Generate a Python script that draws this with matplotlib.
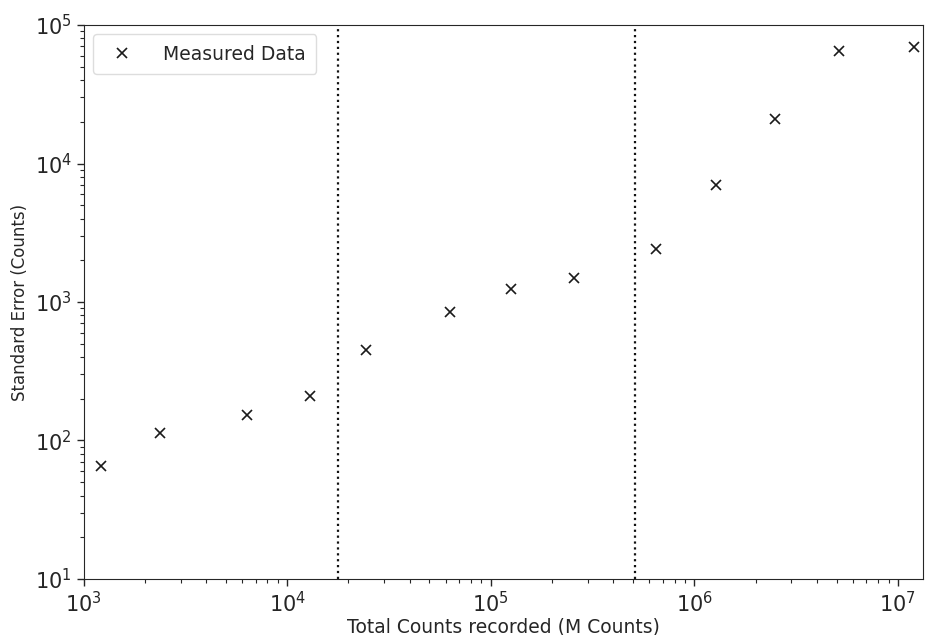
import matplotlib
matplotlib.use("Agg")
import matplotlib.pyplot as plt

# Total counts recorded and the standard error measured at each
total_counts = [1220, 2370, 6380, 12900, 24300, 63000, 126000, 257000,
                646000, 1.28e6, 2.49e6, 5.12e6, 1.2e7]
std_error = [65.5, 113, 154, 211, 448, 847, 1240, 1500,
             2400, 7000, 20850, 65200, 69000]

# Region boundaries
boundaries = [1.77e4, 5.1e5]

ink = "#262626"
plt.rcParams["font.family"] = ["DejaVu Sans"]
plt.rcParams["axes.edgecolor"] = ink
plt.rcParams["xtick.color"] = ink
plt.rcParams["ytick.color"] = ink
plt.rcParams["text.color"] = ink
plt.rcParams["axes.labelcolor"] = ink

fig = plt.figure(figsize=(9.25, 6.35), dpi=100)
ax = fig.add_axes([0.0903, 0.0882, 0.9077, 0.8724])

ax.plot(total_counts, std_error, linestyle="none", marker="x",
        markersize=7, markeredgewidth=1.2, color="#1a1a1a",
        label="Measured Data")
for b in boundaries:
    ax.axvline(b, color="#111111", linestyle=":", linewidth=1.6)

ax.set_xscale("log")
ax.set_yscale("log")
ax.set_xlim(1e3, 1.33e7)
ax.set_ylim(10, 1e5)

ax.set_xlabel("Total Counts recorded (M Counts)", fontsize=13.5, labelpad=1)
ax.set_ylabel("Standard Error (Counts)", fontsize=12, labelpad=4)
ax.tick_params(axis="both", which="major", labelsize=15, length=5, width=1)
ax.tick_params(axis="both", which="minor", length=3, width=0.8)

ax.legend(loc="upper left", fontsize=13.5, frameon=True, borderpad=0.55,
          handletextpad=1.2, framealpha=1.0, edgecolor="#dddddd")

fig.savefig("out.png", dpi=100)
